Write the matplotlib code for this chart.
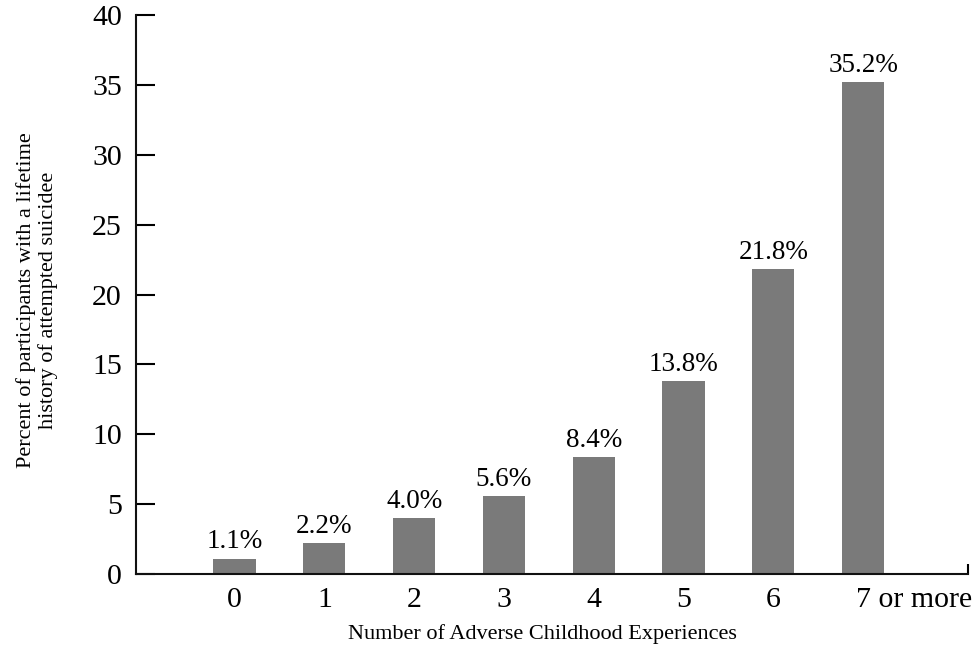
import numpy as np
import matplotlib
matplotlib.use("Agg")
import matplotlib.pyplot as plt
import matplotlib.transforms as mtransforms

# data
categories = ["0", "1", "2", "3", "4", "5", "6", "7 or more"]
values = [1.1, 2.2, 4.0, 5.6, 8.4, 13.8, 21.8, 35.2]
value_labels = ["1.1%", "2.2%", "4.0%", "5.6%", "8.4%", "13.8%", "21.8%", "35.2%"]
y_ticks = [0, 5, 10, 15, 20, 25, 30, 35, 40]

plt.rcParams["font.family"] = ["Liberation Serif", "DejaVu Serif"]

fig = plt.figure(figsize=(9.77, 6.52), dpi=100)
ax = fig.add_axes([0.139, 0.1196, 0.852, 0.857])

x = np.arange(len(categories))
bars = ax.bar(x, values, width=0.47, color="#7a7a7a", zorder=1)
ax.bar_label(bars, labels=value_labels, padding=3, fontsize=19.5)

ax.set_xlim(-1.10, 8.17)
ax.set_ylim(0, 40)

for s in ["top", "right"]:
    ax.spines[s].set_visible(False)
for s in ["left", "bottom"]:
    ax.spines[s].set_linewidth(1.5)
    ax.spines[s].set_color("#111111")
    ax.spines[s].set_zorder(3)

ax.set_yticks(y_ticks)
ax.tick_params(axis="y", direction="in", length=14, width=1.5, pad=10, labelsize=21.5)
ax.set_xticks(x)
ax.set_xticklabels(categories)
ax.tick_params(axis="x", length=0, pad=9, labelsize=21.5)

# last label starts near the bar centre
last = ax.get_xticklabels()[-1]
last.set_horizontalalignment("left")
last.set_transform(last.get_transform() + mtransforms.ScaledTranslation(-7 / 100, 0, fig.dpi_scale_trans))

# small upturned tick at the right end of the x axis
ax.set_xticks([8.17], minor=True)
ax.tick_params(axis="x", which="minor", direction="in", length=7, width=1.5)

ax.set_xlabel("Number of Adverse Childhood Experiences", fontsize=16)
ax.xaxis.set_label_coords(0.489, -0.089)
ax.set_ylabel("Percent of participants with a lifetime\nhistory of attempted suicidee",
              fontsize=16, linespacing=1.15)
ax.yaxis.set_label_coords(-0.119, 0.49)
ax.yaxis.label.set_verticalalignment("center")

fig.savefig("out.png", dpi=100)
